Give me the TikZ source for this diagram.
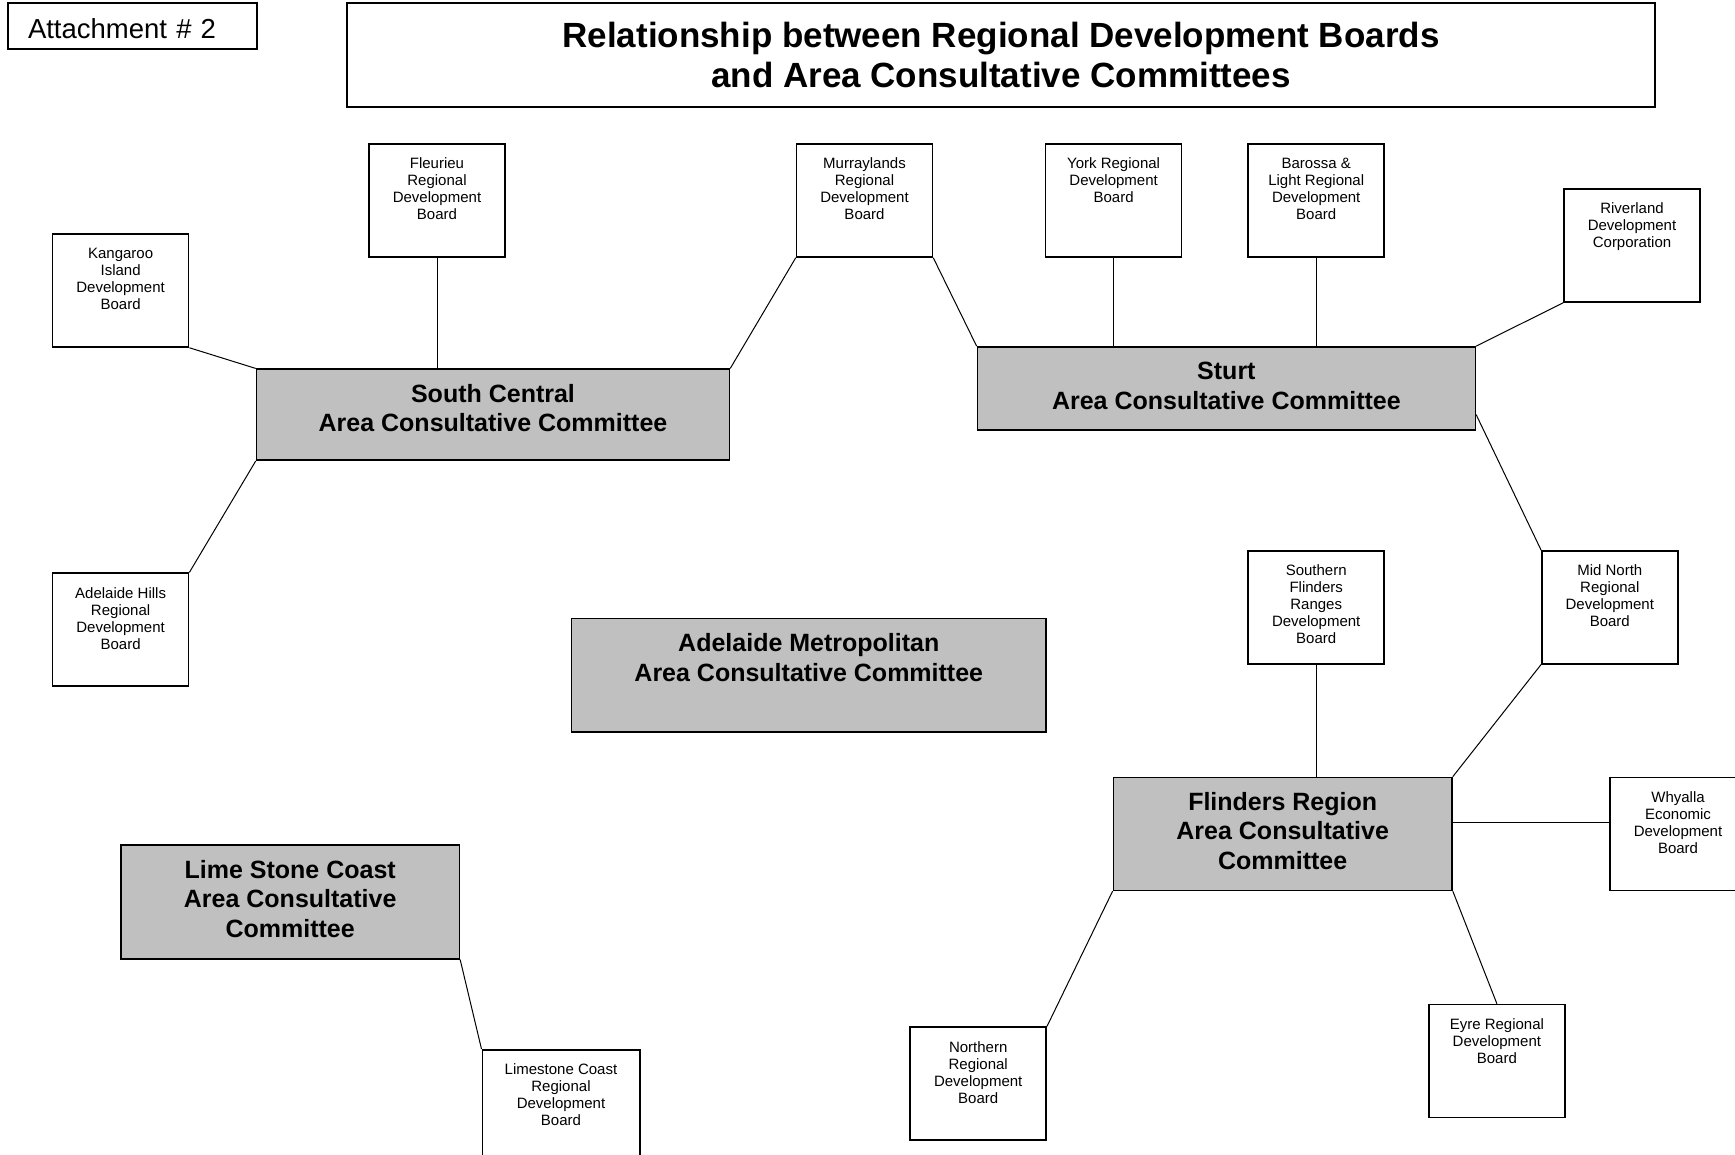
\documentclass[tikz,border=0pt]{standalone}
\usepackage{fontspec}
\setmainfont{Liberation Sans}
\usepackage{tikz}
\usepackage{color}
\definecolor{accgray}{RGB}{192,192,192}

% text of a board box, set from its top
\newcommand{\rdbtext}[2][136pt]{\parbox[c][113pt][t]{#1}{\centering\rule{0pt}{25pt}#2}}
% text of a committee box: width, height, text
\newcommand{\acctext}[3]{\parbox[c][#2][t]{#1}{\centering\rule{0pt}{33pt}#3}}

\begin{document}
\begin{tikzpicture}[x=1pt,y=-1pt]
                \tikzstyle{every path}=[line width=1pt]
                \tikzstyle{frame}=[draw,line width=1.5pt]
                \tikzstyle{rdb}=[frame,inner sep=0pt,font=\fontsize{15}{17}\selectfont]
                \tikzstyle{acc}=[frame,fill=accgray,inner sep=0pt,
                                 font=\bfseries\fontsize{25}{29.5}\selectfont]

                \useasboundingbox (0,0) rectangle (1735,1155);

                %% Heading
                \node [frame,minimum height=46pt,text width=209pt,inner xsep=20pt,
                       text height=26pt,text depth=0pt,font=\fontsize{27.5}{30}\selectfont]
                      (attach) at (132.5,26) {Attachment \# 2};
                \node [frame,minimum width=1308pt,minimum height=104pt,align=center,
                       font=\bfseries\fontsize{35}{40.5}\selectfont]
                      (title) at (1001,55)
                      {Relationship between Regional Development Boards\\and Area Consultative Committees};

                %% Area Consultative Committees
                \node [acc] (southcentral) at (493,414.7)
                      {\acctext{473pt}{91pt}{South Central\\Area Consultative Committee}};
                \node [acc] (sturt) at (1226.4,388.4)
                      {\acctext{498pt}{83pt}{Sturt\\Area Consultative Committee}};
                \node [acc] (metro) at (808.8,675.3)
                      {\acctext{474.5pt}{113.5pt}{Adelaide Metropolitan\\Area Consultative Committee}};
                \node [acc] (flinders) at (1282.7,833.9)
                      {\acctext{338.7pt}{113pt}{Flinders Region\\Area Consultative\\Committee}};
                \node [acc] (limestone) at (290.2,901.9)
                      {\acctext{338.4pt}{113.8pt}{Lime Stone Coast\\Area Consultative\\Committee}};

                %% Regional Development Boards
                \foreach \name/\x/\y/\txt in {
                    kangaroo/120.6/290.5/{Kangaroo\\Island\\Development\\Board},
                    fleurieu/437/200.5/{Fleurieu\\Regional\\Development\\Board},
                    murraylands/864.5/200.5/{Murraylands\\Regional\\Development\\Board},
                    york/1113.6/200.5/{York Regional\\Development\\Board},
                    barossa/1316.2/200.5/{Barossa \&\\Light Regional\\Development\\Board},
                    riverland/1632/245.5/{Riverland\\Development\\Corporation},
                    adlhills/120.6/629.7/{Adelaide Hills\\Regional\\Development\\Board},
                    sflinders/1316.2/607.3/{Southern\\Flinders\\Ranges\\Development\\Board},
                    midnorth/1609.8/607.3/{Mid North\\Regional\\Development\\Board},
                    whyalla/1678/833.9/{Whyalla\\Economic\\Development\\Board},
                    northern/978.2/1083.7/{Northern\\Regional\\Development\\Board},
                    eyre/1496.9/1061/{Eyre Regional\\Development\\Board}}
                    \node [rdb] (\name) at (\x,\y) {\rdbtext{\txt}};
                \node [rdb] (lcrdb) at (561,1106.3)
                      {\rdbtext[157.5pt]{Limestone Coast\\Regional\\Development\\Board}};

                %% Links to South Central
                \draw (kangaroo.south east) -- (southcentral.north west);
                \draw (fleurieu.south) -- (fleurieu.south |- southcentral.north);
                \draw (murraylands.south west) -- (southcentral.north east);
                \draw (adlhills.north east) -- (southcentral.south west);

                %% Links to Sturt
                \draw (murraylands.south east) -- (sturt.north west);
                \draw (york.south) -- (york.south |- sturt.north);
                \draw (barossa.south) -- (barossa.south |- sturt.north);
                \draw (riverland.south west) -- (sturt.north east);
                \draw (sturt.-6) -- (midnorth.north west);

                %% Links to Flinders Region
                \draw (sflinders.south) -- (sflinders.south |- flinders.north);
                \draw (midnorth.south west) -- (flinders.north east);
                \draw (flinders.4) -- (flinders.4 -| whyalla.west);
                \draw (flinders.south west) -- (northern.north east);
                \draw (flinders.south east) -- (eyre.north);

                %% Link to Lime Stone Coast
                \draw (limestone.south east) -- (lcrdb.north west);
\end{tikzpicture}
\end{document}
